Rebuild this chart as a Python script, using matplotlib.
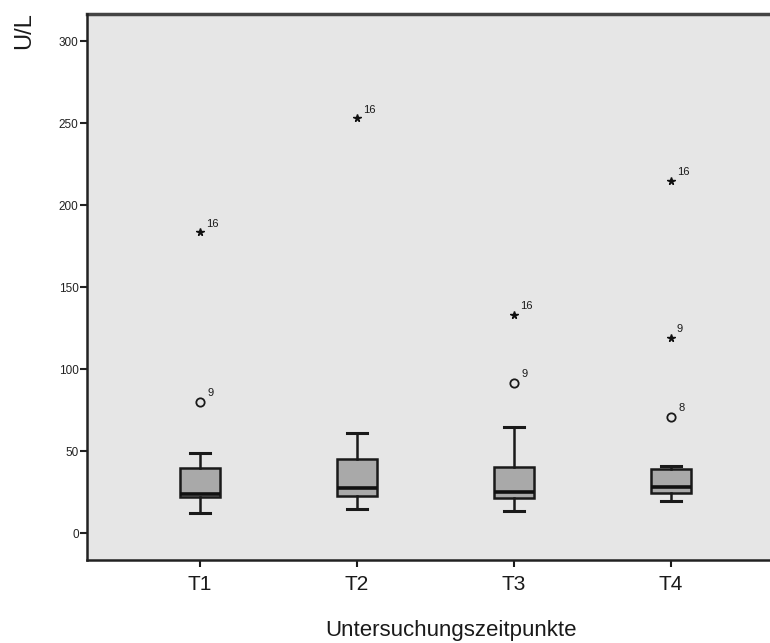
import matplotlib.pyplot as plt

# Boxplot values (U/L)
labels = ['T1', 'T2', 'T3', 'T4']
whisker_low = [12, 14.5, 13.5, 19.5]
q1 = [22, 22.5, 21.5, 24.5]
median = [24, 27.5, 25, 28]
q3 = [39.5, 45, 40, 39]
whisker_high = [48.5, 61, 64.5, 41]

# outliers (circles) and extreme values (stars) with case numbers
circle_pos = [1, 3, 4]
circle_val = [80, 91.5, 71]
circle_case = ['9', '9', '8']
star_pos = [1, 2, 3, 4, 4]
star_val = [183.5, 253, 133, 215, 119]
star_case = ['16', '16', '16', '16', '9']

plt.rcParams['font.family'] = ['Liberation Sans', 'DejaVu Sans']

fig = plt.figure(figsize=(7.7, 6.43), dpi=100)
ax = fig.add_axes([0.113, 0.129, 0.887, 0.849])
ax.set_facecolor('#e6e6e6')

stats = []
for i in range(len(labels)):
    stats.append({'whislo': whisker_low[i], 'q1': q1[i], 'med': median[i],
                  'q3': q3[i], 'whishi': whisker_high[i], 'fliers': []})

ax.bxp(stats, positions=[1, 2, 3, 4], widths=0.25, patch_artist=True,
       showfliers=False,
       boxprops=dict(facecolor='#a9a9a9', edgecolor='#1a1a1a', linewidth=1.8),
       medianprops=dict(color='#111111', linewidth=2.6),
       whiskerprops=dict(color='#1a1a1a', linewidth=1.8),
       capprops=dict(color='#1a1a1a', linewidth=2.2),
       capwidths=0.13)

ax.plot(circle_pos, circle_val, 'o', ms=6, mfc='none', mec='#1a1a1a', mew=1.3, ls='none')
ax.plot(star_pos, star_val, '*', ms=5.5, color='#111111', ls='none')

for x, y, t in zip(circle_pos, circle_val, circle_case):
    ax.annotate(t, (x, y), xytext=(5, 4), textcoords='offset points', fontsize=8,
                color='#1a1a1a')
for x, y, t in zip(star_pos, star_val, star_case):
    ax.annotate(t, (x, y), xytext=(4, 4), textcoords='offset points', fontsize=8,
                color='#1a1a1a')

ax.set_xlim(0.28, 4.63)
ax.set_ylim(-16.5, 316.5)
ax.set_yticks([0, 50, 100, 150, 200, 250, 300])
ax.set_xticks([1, 2, 3, 4])
ax.set_xticklabels(labels, fontsize=15, color='#1a1a1a')
ax.tick_params(axis='y', labelsize=8.5, length=5, width=1.5, pad=1, colors='#222222')
ax.tick_params(axis='x', length=5, width=1.5, pad=6, colors='#1a1a1a')

for side in ['top', 'right']:
    ax.spines[side].set_visible(False)
for side in ['left', 'bottom']:
    ax.spines[side].set_linewidth(1.8)
    ax.spines[side].set_color('#222222')
ax.axhline(316.5, color='#444444', lw=2.5, clip_on=False)

fig.text(0.586, 0.011, 'Untersuchungszeitpunkte', fontsize=16, ha='center', va='baseline',
         color='#1a1a1a')
fig.text(0.031, 0.953, 'U/L', fontsize=17, rotation=90, ha='center', va='center',
         color='#1a1a1a')

fig.savefig('out.png', dpi=100)
